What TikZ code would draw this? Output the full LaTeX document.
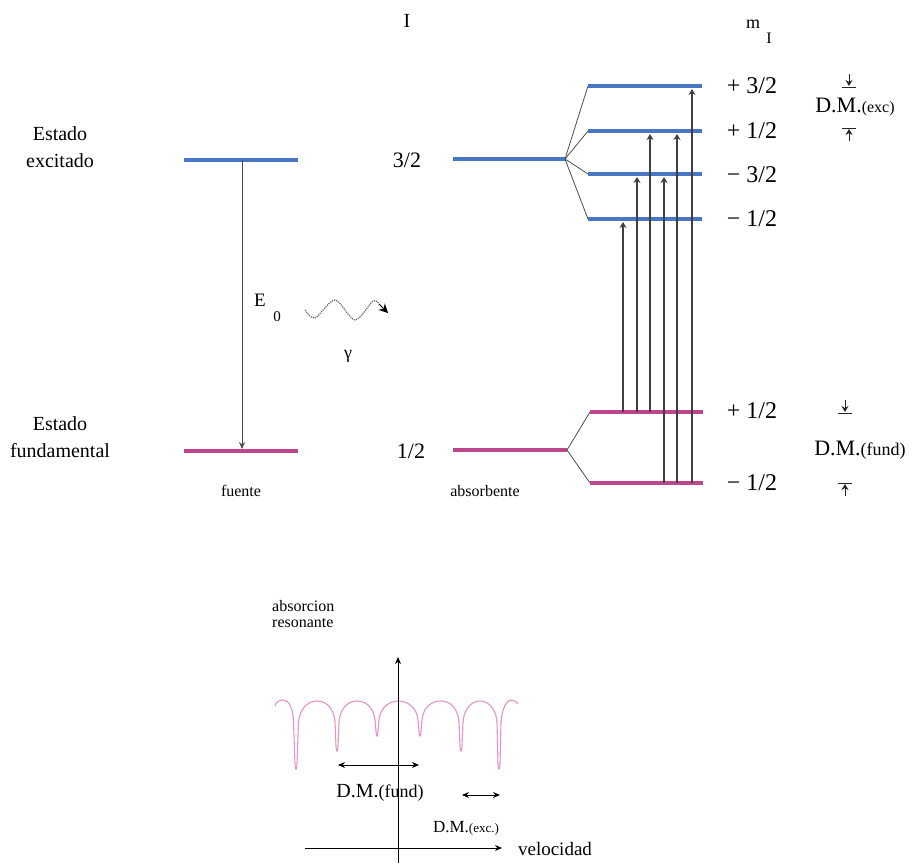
\documentclass[tikz,border=0pt]{standalone}
\usepackage{fontspec}
\setmainfont{Liberation Serif}
\usetikzlibrary{arrows.meta}
\definecolor{lvlblue}{RGB}{72,118,196}
\definecolor{lvlmag}{RGB}{190,70,140}
\definecolor{specpink}{RGB}{225,150,195}
\tikzset{
  lvlB/.style={draw=lvlblue, line width=3.2pt},
  lvlM/.style={draw=lvlmag, line width=3.2pt},
  splitline/.style={draw=black!70, line width=0.8pt},
  trans/.style={draw=black!75, line width=1.1pt, -{Stealth[length=6pt,width=7pt]}},
  emis/.style={draw=black!70, line width=0.9pt, -{Stealth[length=7pt,width=6pt]}},
  dmarr/.style={draw=black!85, line width=1pt, -{Stealth[length=6pt,width=7pt]}},
  dmtick/.style={draw=black!85, line width=1pt},
  axisline/.style={draw=black, line width=0.9pt, -{Stealth[length=7pt,width=6pt]}},
  dblarr/.style={draw=black, line width=0.9pt, {Stealth[length=7pt,width=6pt]}-{Stealth[length=7pt,width=6pt]}},
  lbl/.style={inner sep=0pt, align=center, font=\fontsize{20}{27}\selectfont},
  numlbl/.style={inner sep=0pt, font=\fontsize{22}{26}\selectfont},
  mlbl/.style={inner sep=0pt, font=\fontsize{24}{28}\selectfont},
  smalllbl/.style={inner sep=0pt, align=left, font=\fontsize{16}{17}\selectfont},
  spec/.style={draw=specpink, line width=1.1pt, line join=round},
}
\begin{document}
\begin{tikzpicture}[x=1pt,y=1pt]
\useasboundingbox (0,0) rectangle (924,-865);
\fill[white] (0,0) rectangle (924,-865);

% ---------- headings
\node[lbl] (hI) at (407,-21) {I};
\node[inner sep=0pt, font=\fontsize{18}{20}\selectfont] (hm) at (753,-24) {m};
\node[inner sep=0pt, font=\fontsize{16}{18}\selectfont] (hmI) at (769,-38) {I};

% ---------- source (fuente)
\coordinate (sExL) at (184,-160); \coordinate (sExR) at (298,-160);
\coordinate (sGrL) at (184,-451); \coordinate (sGrR) at (298,-451);
\draw[lvlB] (sExL) -- (sExR);
\draw[lvlM] (sGrL) -- (sGrR);
\coordinate (sTop) at (242,-160); \coordinate (sBot) at (242,-449);
\draw[emis] (sTop) -- (sBot);
\node[lbl] (lEx) at (60,-147) {Estado\\excitado};
\node[lbl] (lGr) at (60,-437) {Estado\\fundamental};
\node[smalllbl] (lF) at (241,-491) {fuente};

% E0 and gamma
\node[inner sep=0pt, font=\fontsize{19}{20}\selectfont] (lE) at (260,-300) {E};
\node[inner sep=0pt, font=\fontsize{15}{16}\selectfont] (lE0) at (277,-317) {0};
\coordinate (w0) at (305,-310);
\coordinate (w1) at (379,-304);
\coordinate (w2) at (388,-313);
\draw[black!60, densely dotted, line width=1.2pt] plot[smooth] coordinates {(w0) (315,-318) (335,-300) (355,-320) (373,-301) (w1)};
\draw[black, line width=0.9pt, -{Stealth[length=9pt,width=9pt]}] (w1) -- (w2);
\node[inner sep=0pt, font=\fontsize{18}{20}\selectfont] (lg) at (348,-356) {γ};

% ---------- absorber
\node[numlbl] (l32) at (407,-160) {3/2};
\node[numlbl] (l12) at (411,-451) {1/2};
\coordinate (aExL) at (453,-159); \coordinate (aEx) at (565,-159);
\coordinate (aGrL) at (453,-450); \coordinate (aGr) at (567,-450);
\draw[lvlB] (aExL) -- (aEx);
\draw[lvlM] (aGrL) -- (aGr);
\node[smalllbl] (lA) at (485,-491) {absorbente};

% excited sublevels
\foreach \n/\y in {1/86, 2/131, 3/174, 4/219} {
  \coordinate (e\n L) at (588,-\y);
  \coordinate (e\n R) at (702,-\y);
  \draw[splitline] (aEx) -- (e\n L);
  \draw[lvlB] (e\n L) -- (e\n R);
}
% ground sublevels
\foreach \n/\y in {1/412, 2/483} {
  \coordinate (g\n L) at (590,-\y);
  \coordinate (g\n R) at (703,-\y);
  \draw[splitline] (aGr) -- (g\n L);
  \draw[lvlM] (g\n L) -- (g\n R);
}
\node[mlbl] (me1) at (752,-86) {+ 3/2};
\node[mlbl] (me2) at (752,-131) {+ 1/2};
\node[mlbl] (me3) at (752,-175) {− 3/2};
\node[mlbl] (me4) at (752,-219) {− 1/2};
\node[mlbl] (mg1) at (752,-411) {+ 1/2};
\node[mlbl] (mg2) at (752,-483) {− 1/2};

% transitions
\foreach \i/\x/\yb/\yt in {1/623/412/219, 2/637/412/174, 3/650/412/131, 4/664/483/174, 5/677/483/131, 6/692/483/86} {
  \coordinate (tb\i) at (\x,-\yb);
  \coordinate (tt\i) at (\x,-\yt-3);
  \draw[trans] (tb\i) -- (tt\i);
}

% D.M. markers
\coordinate (xa1) at (849,-74); \coordinate (xa2) at (849,-86);
\draw[dmarr] (xa1) -- (xa2);
\coordinate (xt1L) at (842,-87); \coordinate (xt1R) at (856,-87);
\draw[dmtick] (xt1L) -- (xt1R);
\coordinate (xt2L) at (842,-128); \coordinate (xt2R) at (856,-128);
\draw[dmtick] (xt2L) -- (xt2R);
\coordinate (xb1) at (849,-141); \coordinate (xb2) at (849,-129);
\draw[dmarr] (xb1) -- (xb2);
\node[inner sep=0pt] (dmx) at (855,-107) {\fontsize{22}{24}\selectfont D.M.\fontsize{16}{18}\selectfont(exc)};

\coordinate (fa1) at (845,-400); \coordinate (fa2) at (845,-412);
\draw[dmarr] (fa1) -- (fa2);
\coordinate (ft1L) at (838,-413); \coordinate (ft1R) at (852,-413);
\draw[dmtick] (ft1L) -- (ft1R);
\coordinate (ft2L) at (838,-483); \coordinate (ft2R) at (852,-483);
\draw[dmtick] (ft2L) -- (ft2R);
\coordinate (fb1) at (845,-496); \coordinate (fb2) at (845,-484);
\draw[dmarr] (fb1) -- (fb2);
\node[inner sep=0pt] (dmf) at (860,-450) {\fontsize{22}{24}\selectfont D.M.\fontsize{18}{20}\selectfont(fund)};

% ---------- spectrum
\node[smalllbl, anchor=west] (lab1) at (272,-606) {absorcion};
\node[smalllbl, anchor=west] (lab2) at (272,-623) {resonante};
\node[inner sep=0pt, font=\fontsize{19}{20}\selectfont] (lvel) at (555,-849) {velocidad};
\node[inner sep=0pt] (sdmf) at (380,-793) {\fontsize{20}{22}\selectfont D.M.\fontsize{18}{20}\selectfont(fund)};
\node[inner sep=0pt] (sdmx) at (466,-828) {\fontsize{17}{19}\selectfont D.M.\fontsize{13}{15}\selectfont(exc.)};

\draw[spec] (275,-706) .. controls (276,-702) and (279,-700) .. (283,-700)
  .. controls (289,-700) and (293,-708) .. (293.5,-722) -- (295,-764)
  .. controls (295.5,-771) and (296.5,-771) .. (297,-764) -- (298.5,-722)
  .. controls (300,-708) and (308,-701) .. (317,-701)
  .. controls (326,-701) and (334,-708) .. (335,-722) -- (336,-746)
  .. controls (336.5,-753) and (337.5,-753) .. (338,-746) -- (339,-722)
  .. controls (340,-708) and (348,-701) .. (357,-701)
  .. controls (366,-701) and (374,-708) .. (375,-720) -- (376,-731)
  .. controls (376.5,-738) and (377.5,-738) .. (378,-731) -- (379,-720)
  .. controls (380,-708) and (389,-701) .. (398.5,-701)
  .. controls (408,-701) and (417,-708) .. (418,-720) -- (419,-731)
  .. controls (419.5,-738) and (420.5,-738) .. (421,-731) -- (422,-720)
  .. controls (423,-708) and (431,-701) .. (440.5,-701)
  .. controls (450,-701) and (458,-708) .. (459,-722) -- (460,-746)
  .. controls (460.5,-753) and (461.5,-753) .. (462,-746) -- (463,-722)
  .. controls (464,-708) and (472,-701) .. (480,-701)
  .. controls (488,-701) and (496,-708) .. (497,-722) -- (498,-764)
  .. controls (498.5,-771) and (499.5,-771) .. (500,-764) -- (501,-722)
  .. controls (502,-708) and (507,-700) .. (511,-700)
  .. controls (514,-700) and (517,-702) .. (518,-704);

\coordinate (vaB) at (398,-863); \coordinate (vaT) at (398,-657);
\draw[axisline] (vaB) -- (vaT);
\coordinate (haL) at (305,-848); \coordinate (haR) at (502,-848);
\draw[axisline] (haL) -- (haR);
\coordinate (df1) at (338,-765); \coordinate (df2) at (419,-765);
\draw[dblarr] (df1) -- (df2);
\coordinate (dx1) at (462,-795); \coordinate (dx2) at (500,-795);
\draw[dblarr] (dx1) -- (dx2);
\end{tikzpicture}
\end{document}
